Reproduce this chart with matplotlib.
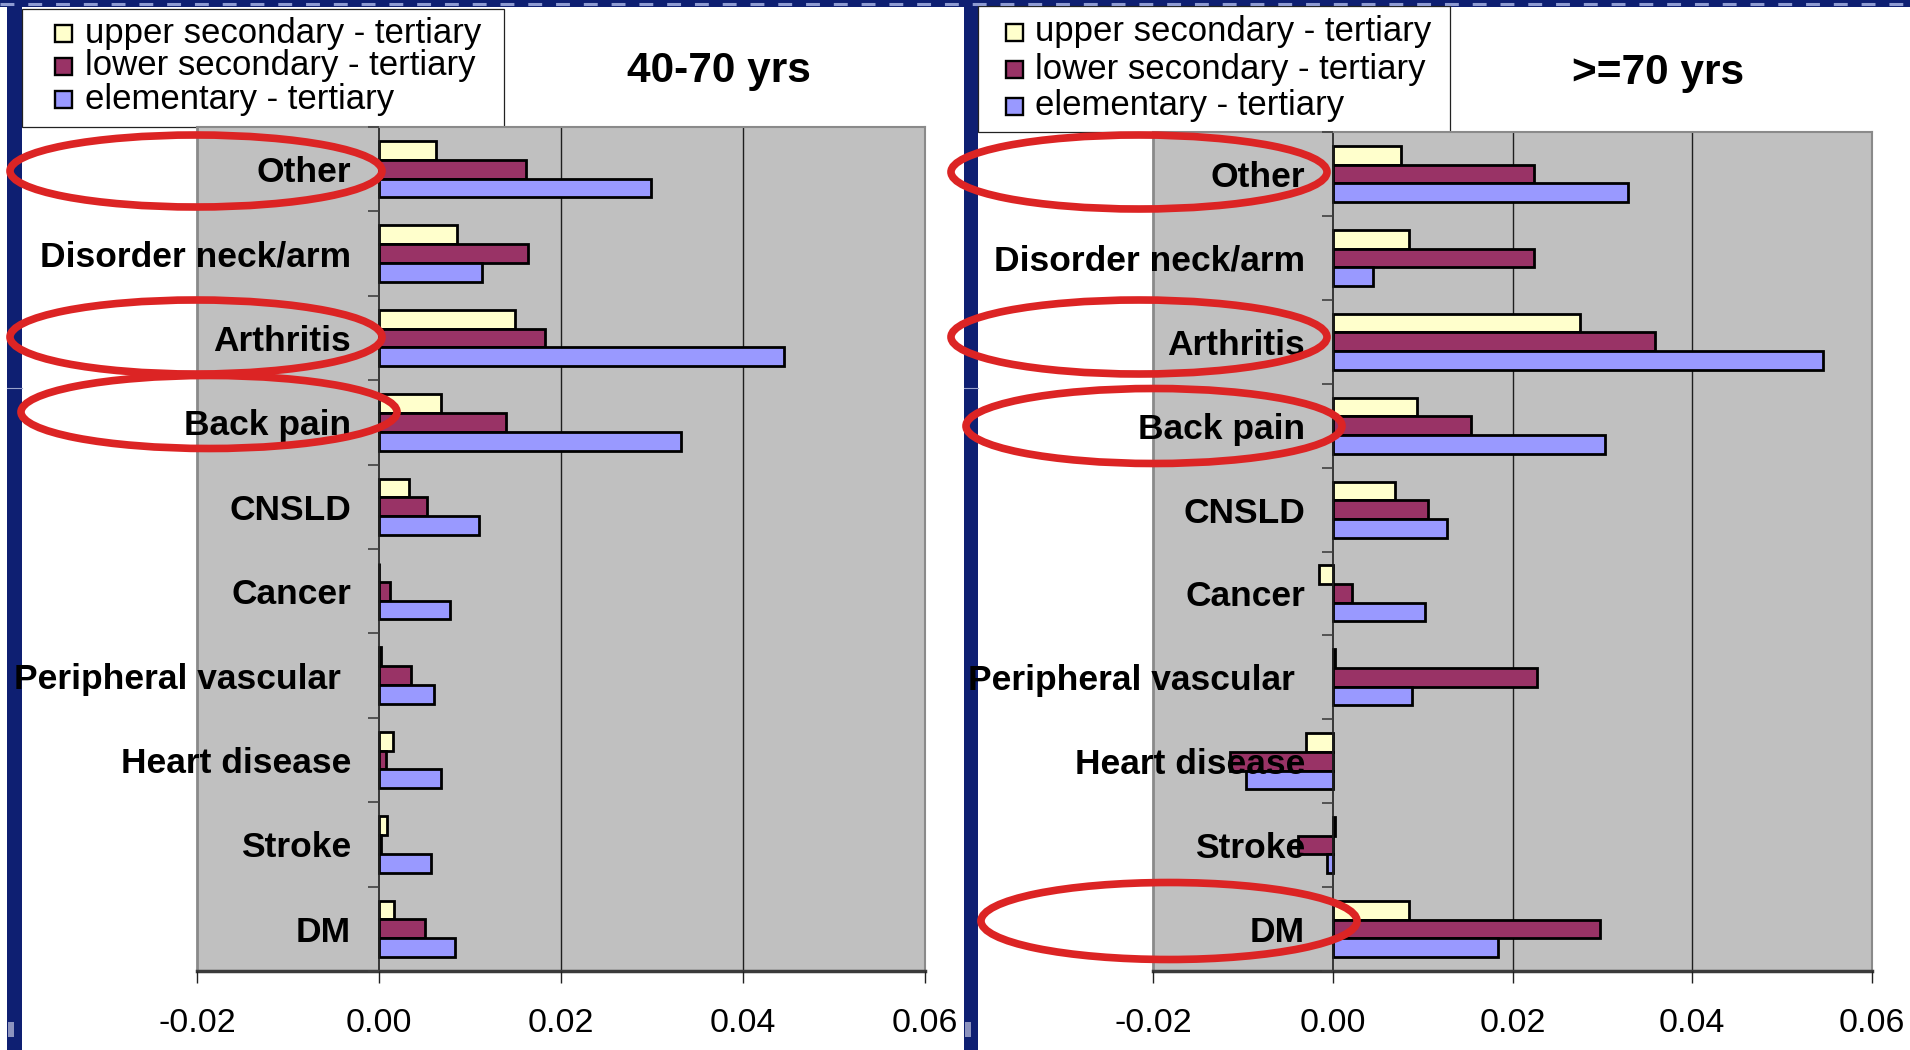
import matplotlib
matplotlib.use('Agg')
import matplotlib.pyplot as plt
from matplotlib.patches import Rectangle, Ellipse
from matplotlib.lines import Line2D
import numpy as np

plt.rcParams['font.family'] = ['Liberation Sans', 'DejaVu Sans']
plt.rcParams['axes.unicode_minus'] = False
plt.rcParams['lines.scale_dashes'] = False

# ---------------- data ----------------
categories = ['Other', 'Disorder neck/arm', 'Arthritis', 'Back pain', 'CNSLD',
              'Cancer', 'Peripheral vascular ', 'Heart disease', 'Stroke', 'DM']
series_names = ['upper secondary - tertiary', 'lower secondary - tertiary',
                'elementary - tertiary']
colors = ['#FFFFCC', '#993366', '#9999FF']

upper_40_70 = [0.0063, 0.0086, 0.0149, 0.0068, 0.0033, 0.0000, 0.0002, 0.0015, 0.0009, 0.0017]
lower_40_70 = [0.0162, 0.0164, 0.0182, 0.0140, 0.0053, 0.0012, 0.0035, 0.0008, 0.0002, 0.0051]
elem_40_70 = [0.0299, 0.0113, 0.0445, 0.0332, 0.0110, 0.0078, 0.0060, 0.0068, 0.0057, 0.0084]

upper_70 = [0.0076, 0.0085, 0.0275, 0.0094, 0.0069, -0.0015, 0.0002, -0.0030, 0.0002, 0.0085]
lower_70 = [0.0224, 0.0224, 0.0359, 0.0154, 0.0106, 0.0021, 0.0227, -0.0114, -0.0039, 0.0297]
elem_70 = [0.0329, 0.0045, 0.0545, 0.0303, 0.0127, 0.0103, 0.0088, -0.0096, -0.0006, 0.0184]

xticks = [-0.02, 0.00, 0.02, 0.04, 0.06]
titles = ['40-70 yrs', '>=70 yrs']

# ---------------- layout (pixels) ----------------
W, H = 1910, 1050
fig = plt.figure(figsize=(W / 100, H / 100), dpi=100, facecolor='white')
NAVY = '#0E1F72'


def px_axes(x0, y0, x1, y1, **kw):
    return fig.add_axes([x0 / W, 1 - y1 / H, (x1 - x0) / W, (y1 - y0) / H], **kw)


# background decorations
bg = fig.add_axes([0, 0, 1, 1], zorder=0)
bg.set_xlim(0, W)
bg.set_ylim(H, 0)
bg.axis('off')

bg.add_patch(Rectangle((0, 0), W, 7, facecolor=NAVY, edgecolor='none'))
bg.add_line(Line2D([0, W], [3.5, 3.5], color='#8E9BD2', lw=2.2,
                   linestyle=(0, (10, 10))))
for sx0, sx1 in [(7, 22), (964, 978)]:
    bg.add_patch(Rectangle((sx0, 0), sx1 - sx0, H, facecolor=NAVY, edgecolor='none'))
    bg.add_line(Line2D([sx0, sx1], [388, 388], color='#9AA3CC', lw=0.8))
    bg.add_patch(Rectangle((sx0 + 1, 1022), 6, 15, facecolor='#8C93BE', edgecolor='none'))

legend_boxes = [(22, 9, 504, 127), (978, 6, 1450, 132)]
legend_rows = [[33, 66, 99], [32, 69, 106]]
marker_x = [55, 1006]
text_x = [85, 1035]
title_pos = [(719, 71), (1658, 73)]

for p in range(2):
    x0, y0, x1, y1 = legend_boxes[p]
    bg.add_patch(Rectangle((x0, y0), x1 - x0, y1 - y0, facecolor='white',
                           edgecolor='#222222', lw=0.9))
    for k, name in enumerate(series_names):
        yy = legend_rows[p][k]
        bg.add_patch(Rectangle((marker_x[p], yy - 8.5), 17, 17, facecolor=colors[k],
                               edgecolor='black', lw=1.7))
        bg.text(text_x[p], yy, name, fontsize=25, va='center', ha='left', color='black')
    bg.text(title_pos[p][0], title_pos[p][1], titles[p], fontsize=30.5,
            fontweight='bold', ha='center', va='center', color='black')

panel_boxes = [(197, 127, 925, 971), (1153, 132, 1872, 971)]
panel_data = [(upper_40_70, lower_40_70, elem_40_70), (upper_70, lower_70, elem_70)]

n = len(categories)
pos = np.arange(n)
bh = 1 / 4.5

for p in range(2):
    ax = px_axes(*panel_boxes[p], zorder=1)
    ax.set_facecolor('#C0C0C0')
    for k, vals in enumerate(panel_data[p]):
        ax.barh(pos + (k - 1) * bh, vals, height=bh, color=colors[k],
                edgecolor='black', linewidth=2, zorder=1.2)
    ax.set_xlim(-0.02, 0.06)
    ax.set_ylim(n - 0.5, -0.5)
    for g in [0.02, 0.04]:
        ax.axvline(g, color='#1E1E1E', lw=1, zorder=1.0)
    ax.set_axisbelow(False)

    # frame
    for side in ['top', 'right']:
        ax.spines[side].set_color('#8A8A8A')
        ax.spines[side].set_linewidth(1.5)
    ax.spines['bottom'].set_color('#3A3A3A')
    ax.spines['bottom'].set_linewidth(2.5)
    ax.add_line(Line2D([0, 0], [0, 1], transform=ax.transAxes, color='#8A8A8A',
                       lw=2, clip_on=False, zorder=1.1))
    ax.spines['left'].set_position(('data', 0))
    ax.spines['left'].set_color('#202020')
    ax.spines['left'].set_linewidth(1.2)

    # x axis
    ax.set_xticks(xticks)
    ax.set_xticklabels(['%.2f' % t for t in xticks])
    ax.tick_params(axis='x', which='major', direction='out', length=8.5, width=1,
                   color='#202020', labelsize=24.5, pad=18)

    # y axis: ticks at boundaries, labels at centres
    ax.set_yticks(np.arange(n + 1) - 0.5)
    ax.set_yticklabels([''] * (n + 1))
    ax.tick_params(axis='y', which='major', direction='out', length=8, width=1.2,
                   color='#404040')
    ax.set_yticks(pos, minor=True)
    ax.set_yticklabels(categories, minor=True, fontsize=25.5, fontweight='bold')
    ax.tick_params(axis='y', which='minor', length=0, pad=20)

# ---------------- red ellipses overlay ----------------
ov = fig.add_axes([0, 0, 1, 1], zorder=10)
ov.set_xlim(0, W)
ov.set_ylim(H, 0)
ov.axis('off')
ov.patch.set_alpha(0)

ellipses = [(196, 171, 372, 72), (196, 337, 372, 74), (209, 412, 376, 73),
            (1139, 172, 376, 74), (1139, 337, 376, 74), (1154, 426, 376, 75),
            (1169, 921, 376, 77)]
for cx, cy, ew, eh in ellipses:
    ov.add_patch(Ellipse((cx, cy), ew, eh, facecolor='none', edgecolor='#DC2424', lw=5.5))

fig.savefig('out.png', dpi=100, facecolor='white')
